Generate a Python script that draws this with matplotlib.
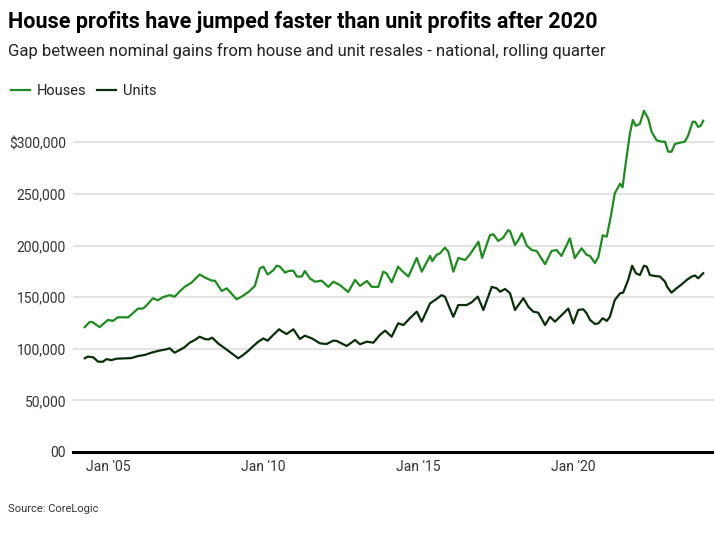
import matplotlib
matplotlib.use("Agg")
import matplotlib.pyplot as plt

plt.rcParams['font.family'] = ['Roboto', 'DejaVu Sans']

# dates as decimal years, values in thousands of dollars
house_dates = [2004.25, 2004.41, 2004.49, 2004.73, 2005.00, 2005.16, 2005.32, 2005.65, 2005.75, 2005.97,
               2006.13, 2006.24, 2006.45, 2006.61, 2006.77, 2006.99, 2007.15, 2007.26, 2007.47, 2007.69,
               2007.96, 2008.13, 2008.35, 2008.45, 2008.67, 2008.83, 2009.15, 2009.31, 2009.53, 2009.74,
               2009.90, 2010.01, 2010.15, 2010.33, 2010.44, 2010.55, 2010.71, 2010.82, 2010.98, 2011.09,
               2011.25, 2011.35, 2011.52, 2011.68, 2011.89, 2012.11, 2012.27, 2012.48, 2012.75, 2012.97,
               2013.13, 2013.35, 2013.51, 2013.72, 2013.88, 2013.99, 2014.15, 2014.36, 2014.47, 2014.69,
               2014.96, 2015.12, 2015.39, 2015.46, 2015.60, 2015.71, 2015.87, 2015.98, 2016.14, 2016.30,
               2016.52, 2016.68, 2016.95, 2017.07, 2017.32, 2017.43, 2017.59, 2017.75, 2017.91, 2017.97,
               2018.13, 2018.24, 2018.35, 2018.51, 2018.67, 2018.83, 2019.10, 2019.31, 2019.47, 2019.63,
               2019.90, 2020.06, 2020.28, 2020.44, 2020.55, 2020.71, 2020.82, 2020.96, 2021.09, 2021.22,
               2021.35, 2021.52, 2021.60, 2021.73, 2021.84, 2021.93, 2022.03, 2022.16, 2022.29, 2022.43,
               2022.54, 2022.70, 2022.86, 2022.97, 2023.07, 2023.18, 2023.29, 2023.45, 2023.61, 2023.72,
               2023.86, 2023.94, 2024.04, 2024.12, 2024.20]
houses = [121, 126, 126, 121, 128, 127, 130.5, 130.5, 133, 139,
          139, 142, 149, 147, 150, 152, 150.5, 154, 160, 164,
          172, 169, 166, 166, 156, 158.6, 148, 150.5, 155, 161,
          178, 179.6, 172, 176, 180.5, 179.6, 173.8, 175.4, 175.7, 170,
          170, 175.4, 168, 165, 166, 160, 165, 161.8, 155, 166.7,
          161, 165.7, 160, 160, 174.7, 173, 164.4, 179.6, 176, 170,
          188, 174.7, 190, 185, 191, 192.5, 198, 194, 174.7, 188,
          186, 191.6, 203.8, 188, 210, 211, 204.5, 207.7, 215, 214,
          200.6, 205.4, 212, 200, 195.7, 194.8, 182, 194.8, 195.7, 190,
          207, 188, 197.4, 191, 190, 183, 189, 210, 208.7, 228,
          250.7, 260, 256.5, 286, 309, 321.7, 316, 318, 330.7, 323,
          310, 302, 300.7, 300.7, 291, 291, 298.5, 299.7, 300.7, 307,
          320, 320, 315, 316, 321]

unit_dates = [2004.25, 2004.35, 2004.52, 2004.68, 2004.84, 2004.95, 2005.11, 2005.27, 2005.75, 2005.97,
              2006.18, 2006.40, 2006.61, 2006.88, 2006.99, 2007.15, 2007.31, 2007.47, 2007.64, 2007.80,
              2007.96, 2008.12, 2008.24, 2008.36, 2008.56, 2008.77, 2008.99, 2009.20, 2009.36, 2009.53,
              2009.69, 2009.85, 2010.01, 2010.15, 2010.33, 2010.52, 2010.60, 2010.76, 2010.98, 2011.19,
              2011.35, 2011.57, 2011.84, 2012.05, 2012.27, 2012.38, 2012.59, 2012.70, 2012.97, 2013.13,
              2013.35, 2013.56, 2013.77, 2013.94, 2014.15, 2014.36, 2014.53, 2014.74, 2014.96, 2015.12,
              2015.39, 2015.60, 2015.76, 2015.87, 2015.98, 2016.14, 2016.30, 2016.57, 2016.73, 2016.93,
              2017.11, 2017.38, 2017.54, 2017.65, 2017.81, 2017.97, 2018.13, 2018.24, 2018.40, 2018.56,
              2018.72, 2018.88, 2019.10, 2019.26, 2019.42, 2019.58, 2019.85, 2020.01, 2020.17, 2020.33,
              2020.44, 2020.55, 2020.71, 2020.82, 2020.96, 2021.09, 2021.19, 2021.35, 2021.52, 2021.62,
              2021.78, 2021.91, 2022.03, 2022.16, 2022.29, 2022.38, 2022.48, 2022.65, 2022.81, 2022.97,
              2023.04, 2023.18, 2023.34, 2023.51, 2023.67, 2023.83, 2023.94, 2024.04, 2024.20]
units = [90.8, 92.4, 91.8, 87.5, 87.5, 90, 89, 90.4, 91, 93,
         94, 96.2, 97.9, 99.5, 100.5, 96.2, 98.8, 101.5, 106, 108.5,
         111.7, 109.5, 109, 110.8, 105, 100.5, 95.6, 90.8, 94, 98.2,
         102.7, 106.9, 110, 107.9, 113.4, 118.9, 117.2, 114.3, 118.9, 109.5,
         112.7, 110.2, 105.3, 104.6, 107.9, 107.6, 104.4, 102.7, 108.5, 104.4,
         106.9, 105.9, 113.4, 117.6, 111.7, 124.7, 123, 129.6, 136, 126.3,
         144, 148.3, 152, 150.5, 142.4, 131, 142.4, 142.4, 145, 150.5,
         137.6, 160, 158.6, 155.3, 158, 153.8, 137.6, 142.4, 149, 140.8,
         136, 135, 123, 131, 126.3, 131, 139, 124.7, 137.6, 138.3,
         134.4, 128, 124, 124.7, 129.6, 127, 131, 147.3, 153.8, 154.4,
         166.7, 180.5, 173.2, 171.5, 180.5, 179.6, 171.5, 170.5, 170, 165,
         160, 154.4, 158.6, 162.5, 166.7, 170, 171, 168.3, 173.2]

yticks = [0, 50000, 100000, 150000, 200000, 250000, 300000]
ytick_labels = ['00', '50,000', '100,000', '150,000', '200,000', '250,000', '$300,000']
xticks = [2005, 2010, 2015, 2020]
xtick_labels = ["Jan '05", "Jan '10", "Jan '15", "Jan '20"]

green = '#1e8c1e'
dark = '#0a2e0a'

fig = plt.figure(figsize=(7.14, 5.34), dpi=100)
ax = fig.add_axes([0.1022, 0.1536, 0.8978, 0.657])

ax.plot(house_dates, [v * 1000 for v in houses], color=green, lw=1.6, label='Houses',
        zorder=3, solid_joinstyle='round')
ax.plot(unit_dates, [v * 1000 for v in units], color=dark, lw=1.6, label='Units',
        zorder=3, solid_joinstyle='round')

ax.set_xlim(2003.87, 2024.55)
ax.set_ylim(0, 340000)

ax.set_yticks(yticks)
ax.set_yticklabels(ytick_labels)
ax.set_xticks(xticks)
ax.set_xticklabels(xtick_labels)
ax.tick_params(axis='both', length=0, labelsize=10, colors='#333333')
ax.tick_params(axis='y', pad=5)
ax.tick_params(axis='x', pad=6)

ax.grid(axis='y', color='#e2e2e2', lw=1.3)
ax.set_axisbelow(True)
for s in ['top', 'right', 'left']:
    ax.spines[s].set_visible(False)
ax.spines['bottom'].set_color('black')
ax.spines['bottom'].set_linewidth(2.2)
ax.spines['bottom'].set_zorder(4)

fig.text(0.011, 0.948, 'House profits have jumped faster than unit profits after 2020',
         fontsize=15.5, fontweight='bold', color='black', va='baseline')
fig.text(0.011, 0.896, 'Gap between nominal gains from house and unit resales - national, rolling quarter',
         fontsize=12, color='#222222', va='baseline')
fig.text(0.011, 0.042, 'Source: CoreLogic', fontsize=8, color='#333333', va='baseline')

leg = fig.legend(loc='upper left', bbox_to_anchor=(-0.003, 0.868), ncol=2, frameon=False,
                 fontsize=10.5, handlelength=1.3, handletextpad=0.5, columnspacing=0.7)
for t in leg.get_texts():
    t.set_color('#222222')

fig.savefig('out.png', dpi=100)
